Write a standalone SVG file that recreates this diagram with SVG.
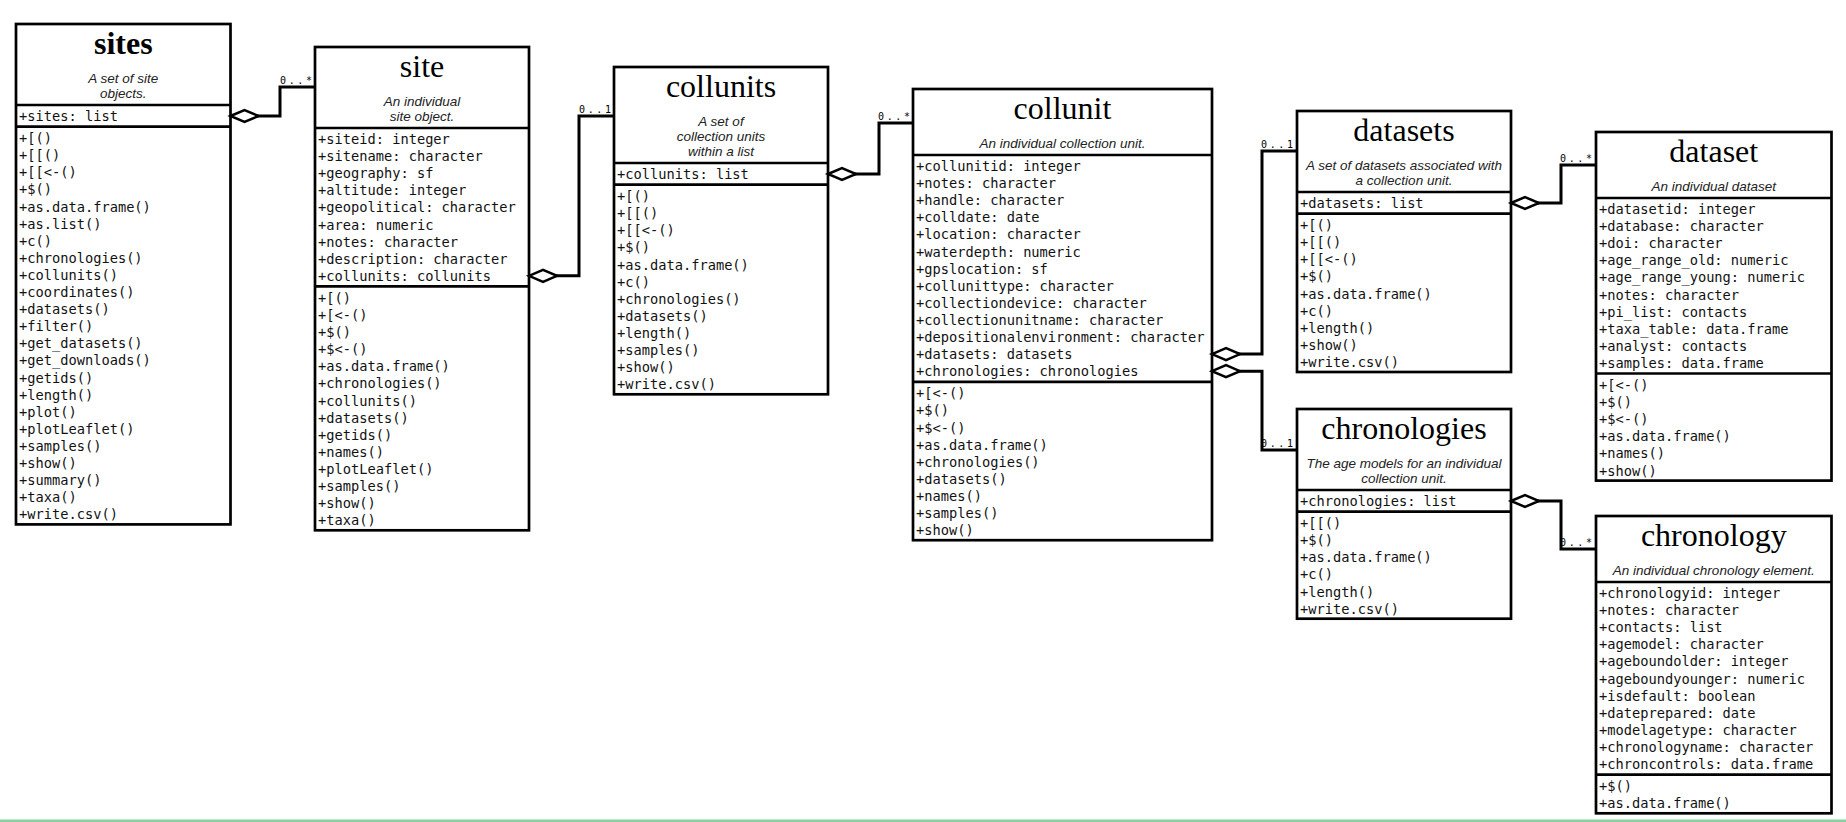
<svg xmlns="http://www.w3.org/2000/svg" width="1846" height="822" viewBox="0 0 1846 822">
  <style>
    .box { fill: #fff; stroke: #000; stroke-width: 2.7; }
    .sep { stroke: #000; stroke-width: 2.7; }
    .title { font-family: "Liberation Serif", "DejaVu Serif", serif; font-size: 32px; text-anchor: middle; fill: #000; }
    .bold { font-weight: bold; }
    .sub { font-family: "Liberation Sans", "DejaVu Sans", sans-serif; font-style: italic; font-size: 13.5px; text-anchor: middle; fill: #222; }
    .m { font-family: "DejaVu Sans Mono", "Liberation Mono", monospace; font-size: 13.7px; fill: #111; }
    .lbl { font-family: "DejaVu Sans Mono", "Liberation Mono", monospace; font-size: 10px; fill: #000; }
    .wire { fill: none; stroke: #000; stroke-width: 3; marker-start: url(#agg); }
  </style>
  <defs>
    <!-- hollow aggregation diamond at the owning end -->
    <marker id="agg" markerUnits="userSpaceOnUse" viewBox="0 0 32 16" markerWidth="32" markerHeight="16" refX="1" refY="8" orient="auto" overflow="visible">
      <path d="M1,8 L15,2 L29,8 L15,14 Z" fill="#fff" stroke="#000" stroke-width="2.5"/>
    </marker>
  </defs>
  <rect width="1846" height="822" fill="#fff"/>

  <!-- sites -->
  <g id="sites">
    <rect class="box" x="16" y="24" width="214.5" height="500.4"/>
    <line class="sep" x1="16" y1="105" x2="230.5" y2="105"/>
    <line class="sep" x1="16" y1="126.6" x2="230.5" y2="126.6"/>
    <text class="title bold" x="123.3" y="54">sites</text>
    <text class="sub" x="123.3" y="83">A set of site</text>
    <text class="sub" x="123.3" y="98">objects.</text>
    <text class="m" x="19" y="121">+sites: list</text>
    <text class="m" x="19" y="143.1">+[()<tspan x="19" dy="17.1">+[[()</tspan><tspan x="19" dy="17.1">+[[&lt;-()</tspan><tspan x="19" dy="17.1">+$()</tspan><tspan x="19" dy="17.1">+as.data.frame()</tspan><tspan x="19" dy="17.1">+as.list()</tspan><tspan x="19" dy="17.1">+c()</tspan><tspan x="19" dy="17.1">+chronologies()</tspan><tspan x="19" dy="17.1">+collunits()</tspan><tspan x="19" dy="17.1">+coordinates()</tspan><tspan x="19" dy="17.1">+datasets()</tspan><tspan x="19" dy="17.1">+filter()</tspan><tspan x="19" dy="17.1">+get_datasets()</tspan><tspan x="19" dy="17.1">+get_downloads()</tspan><tspan x="19" dy="17.1">+getids()</tspan><tspan x="19" dy="17.1">+length()</tspan><tspan x="19" dy="17.1">+plot()</tspan><tspan x="19" dy="17.1">+plotLeaflet()</tspan><tspan x="19" dy="17.1">+samples()</tspan><tspan x="19" dy="17.1">+show()</tspan><tspan x="19" dy="17.1">+summary()</tspan><tspan x="19" dy="17.1">+taxa()</tspan><tspan x="19" dy="17.1">+write.csv()</tspan></text>
  </g>

  <!-- site -->
  <g id="site">
    <rect class="box" x="315" y="47" width="214" height="483.3"/>
    <line class="sep" x1="315" y1="128" x2="529" y2="128"/>
    <line class="sep" x1="315" y1="286.4" x2="529" y2="286.4"/>
    <text class="title" x="422" y="77">site</text>
    <text class="sub" x="422" y="106">An individual</text>
    <text class="sub" x="422" y="121">site object.</text>
    <text class="m" x="318" y="144">+siteid: integer<tspan x="318" dy="17.1">+sitename: character</tspan><tspan x="318" dy="17.1">+geography: sf</tspan><tspan x="318" dy="17.1">+altitude: integer</tspan><tspan x="318" dy="17.1">+geopolitical: character</tspan><tspan x="318" dy="17.1">+area: numeric</tspan><tspan x="318" dy="17.1">+notes: character</tspan><tspan x="318" dy="17.1">+description: character</tspan><tspan x="318" dy="17.1">+collunits: collunits</tspan></text>
    <text class="m" x="318" y="302.9">+[()<tspan x="318" dy="17.1">+[&lt;-()</tspan><tspan x="318" dy="17.1">+$()</tspan><tspan x="318" dy="17.1">+$&lt;-()</tspan><tspan x="318" dy="17.1">+as.data.frame()</tspan><tspan x="318" dy="17.1">+chronologies()</tspan><tspan x="318" dy="17.1">+collunits()</tspan><tspan x="318" dy="17.1">+datasets()</tspan><tspan x="318" dy="17.1">+getids()</tspan><tspan x="318" dy="17.1">+names()</tspan><tspan x="318" dy="17.1">+plotLeaflet()</tspan><tspan x="318" dy="17.1">+samples()</tspan><tspan x="318" dy="17.1">+show()</tspan><tspan x="318" dy="17.1">+taxa()</tspan></text>
  </g>

  <!-- collunits -->
  <g id="collunits">
    <rect class="box" x="614" y="67" width="214" height="327.3"/>
    <line class="sep" x1="614" y1="163" x2="828" y2="163"/>
    <line class="sep" x1="614" y1="184.6" x2="828" y2="184.6"/>
    <text class="title" x="721" y="97">collunits</text>
    <text class="sub" x="721" y="126">A set of</text>
    <text class="sub" x="721" y="141">collection units</text>
    <text class="sub" x="721" y="156">within a list</text>
    <text class="m" x="617" y="179">+collunits: list</text>
    <text class="m" x="617" y="201.1">+[()<tspan x="617" dy="17.1">+[[()</tspan><tspan x="617" dy="17.1">+[[&lt;-()</tspan><tspan x="617" dy="17.1">+$()</tspan><tspan x="617" dy="17.1">+as.data.frame()</tspan><tspan x="617" dy="17.1">+c()</tspan><tspan x="617" dy="17.1">+chronologies()</tspan><tspan x="617" dy="17.1">+datasets()</tspan><tspan x="617" dy="17.1">+length()</tspan><tspan x="617" dy="17.1">+samples()</tspan><tspan x="617" dy="17.1">+show()</tspan><tspan x="617" dy="17.1">+write.csv()</tspan></text>
  </g>

  <!-- collunit -->
  <g id="collunit">
    <rect class="box" x="913" y="89" width="299" height="451.2"/>
    <line class="sep" x1="913" y1="155" x2="1212" y2="155"/>
    <line class="sep" x1="913" y1="381.8" x2="1212" y2="381.8"/>
    <text class="title" x="1062.5" y="119">collunit</text>
    <text class="sub" x="1062.5" y="148">An individual collection unit.</text>
    <text class="m" x="916" y="171">+collunitid: integer<tspan x="916" dy="17.1">+notes: character</tspan><tspan x="916" dy="17.1">+handle: character</tspan><tspan x="916" dy="17.1">+colldate: date</tspan><tspan x="916" dy="17.1">+location: character</tspan><tspan x="916" dy="17.1">+waterdepth: numeric</tspan><tspan x="916" dy="17.1">+gpslocation: sf</tspan><tspan x="916" dy="17.1">+collunittype: character</tspan><tspan x="916" dy="17.1">+collectiondevice: character</tspan><tspan x="916" dy="17.1">+collectionunitname: character</tspan><tspan x="916" dy="17.1">+depositionalenvironment: character</tspan><tspan x="916" dy="17.1">+datasets: datasets</tspan><tspan x="916" dy="17.1">+chronologies: chronologies</tspan></text>
    <text class="m" x="916" y="398.3">+[&lt;-()<tspan x="916" dy="17.1">+$()</tspan><tspan x="916" dy="17.1">+$&lt;-()</tspan><tspan x="916" dy="17.1">+as.data.frame()</tspan><tspan x="916" dy="17.1">+chronologies()</tspan><tspan x="916" dy="17.1">+datasets()</tspan><tspan x="916" dy="17.1">+names()</tspan><tspan x="916" dy="17.1">+samples()</tspan><tspan x="916" dy="17.1">+show()</tspan></text>
  </g>

  <!-- datasets -->
  <g id="datasets">
    <rect class="box" x="1297" y="111" width="214" height="261"/>
    <line class="sep" x1="1297" y1="192" x2="1511" y2="192"/>
    <line class="sep" x1="1297" y1="213.6" x2="1511" y2="213.6"/>
    <text class="title" x="1404" y="141">datasets</text>
    <text class="sub" x="1404" y="170">A set of datasets associated with</text>
    <text class="sub" x="1404" y="185">a collection unit.</text>
    <text class="m" x="1300" y="208">+datasets: list</text>
    <text class="m" x="1300" y="230.1">+[()<tspan x="1300" dy="17.1">+[[()</tspan><tspan x="1300" dy="17.1">+[[&lt;-()</tspan><tspan x="1300" dy="17.1">+$()</tspan><tspan x="1300" dy="17.1">+as.data.frame()</tspan><tspan x="1300" dy="17.1">+c()</tspan><tspan x="1300" dy="17.1">+length()</tspan><tspan x="1300" dy="17.1">+show()</tspan><tspan x="1300" dy="17.1">+write.csv()</tspan></text>
  </g>

  <!-- dataset -->
  <g id="dataset">
    <rect class="box" x="1596" y="132" width="235.5" height="348.6"/>
    <line class="sep" x1="1596" y1="198" x2="1831.5" y2="198"/>
    <line class="sep" x1="1596" y1="373.5" x2="1831.5" y2="373.5"/>
    <text class="title" x="1713.75" y="162">dataset</text>
    <text class="sub" x="1713.75" y="191">An individual dataset</text>
    <text class="m" x="1599" y="214">+datasetid: integer<tspan x="1599" dy="17.1">+database: character</tspan><tspan x="1599" dy="17.1">+doi: character</tspan><tspan x="1599" dy="17.1">+age_range_old: numeric</tspan><tspan x="1599" dy="17.1">+age_range_young: numeric</tspan><tspan x="1599" dy="17.1">+notes: character</tspan><tspan x="1599" dy="17.1">+pi_list: contacts</tspan><tspan x="1599" dy="17.1">+taxa_table: data.frame</tspan><tspan x="1599" dy="17.1">+analyst: contacts</tspan><tspan x="1599" dy="17.1">+samples: data.frame</tspan></text>
    <text class="m" x="1599" y="390">+[&lt;-()<tspan x="1599" dy="17.1">+$()</tspan><tspan x="1599" dy="17.1">+$&lt;-()</tspan><tspan x="1599" dy="17.1">+as.data.frame()</tspan><tspan x="1599" dy="17.1">+names()</tspan><tspan x="1599" dy="17.1">+show()</tspan></text>
  </g>

  <!-- chronologies -->
  <g id="chronologies">
    <rect class="box" x="1297" y="409" width="214" height="209.7"/>
    <line class="sep" x1="1297" y1="490" x2="1511" y2="490"/>
    <line class="sep" x1="1297" y1="511.6" x2="1511" y2="511.6"/>
    <text class="title" x="1404" y="439">chronologies</text>
    <text class="sub" x="1404" y="468">The age models for an individual</text>
    <text class="sub" x="1404" y="483">collection unit.</text>
    <text class="m" x="1300" y="506">+chronologies: list</text>
    <text class="m" x="1300" y="528.1">+[[()<tspan x="1300" dy="17.1">+$()</tspan><tspan x="1300" dy="17.1">+as.data.frame()</tspan><tspan x="1300" dy="17.1">+c()</tspan><tspan x="1300" dy="17.1">+length()</tspan><tspan x="1300" dy="17.1">+write.csv()</tspan></text>
  </g>

  <!-- chronology -->
  <g id="chronology">
    <rect class="box" x="1596" y="516" width="235.5" height="297.3"/>
    <line class="sep" x1="1596" y1="582" x2="1831.5" y2="582"/>
    <line class="sep" x1="1596" y1="774.6" x2="1831.5" y2="774.6"/>
    <text class="title" x="1713.75" y="546">chronology</text>
    <text class="sub" x="1713.75" y="575">An individual chronology element.</text>
    <text class="m" x="1599" y="598">+chronologyid: integer<tspan x="1599" dy="17.1">+notes: character</tspan><tspan x="1599" dy="17.1">+contacts: list</tspan><tspan x="1599" dy="17.1">+agemodel: character</tspan><tspan x="1599" dy="17.1">+ageboundolder: integer</tspan><tspan x="1599" dy="17.1">+ageboundyounger: numeric</tspan><tspan x="1599" dy="17.1">+isdefault: boolean</tspan><tspan x="1599" dy="17.1">+dateprepared: date</tspan><tspan x="1599" dy="17.1">+modelagetype: character</tspan><tspan x="1599" dy="17.1">+chronologyname: character</tspan><tspan x="1599" dy="17.1">+chroncontrols: data.frame</tspan></text>
    <text class="m" x="1599" y="791.1">+$()<tspan x="1599" dy="17.1">+as.data.frame()</tspan></text>
  </g>

  <!-- aggregation links: diamond on the container, multiplicity at the part -->
  <g id="connectors">
    <path class="wire" d="M230.5,116 H280 V87 H315"/>
    <path class="wire" d="M529,275.8 H579 V116 H614"/>
    <path class="wire" d="M828,174 H879 V123 H913"/>
    <path class="wire" d="M1212,354.1 H1262 V151 H1297"/>
    <path class="wire" d="M1212,371.2 H1262 V450 H1297"/>
    <path class="wire" d="M1511,203 H1561 V165 H1596"/>
    <path class="wire" d="M1511,501 H1561 V549 H1596"/>
    <text class="lbl" x="280" y="84" textLength="32" lengthAdjust="spacing">0..*</text>
    <text class="lbl" x="579" y="112.5" textLength="32" lengthAdjust="spacing">0..1</text>
    <text class="lbl" x="878" y="119.5" textLength="32" lengthAdjust="spacing">0..*</text>
    <text class="lbl" x="1261" y="147.5" textLength="32" lengthAdjust="spacing">0..1</text>
    <text class="lbl" x="1261" y="446.5" textLength="32" lengthAdjust="spacing">0..1</text>
    <text class="lbl" x="1560" y="161.5" textLength="32" lengthAdjust="spacing">0..*</text>
    <text class="lbl" x="1560" y="545.5" textLength="32" lengthAdjust="spacing">0..*</text>
  </g>

  <!-- bottom rule -->
  <rect x="0" y="819.5" width="1846" height="2.5" fill="#88d1a1"/>
</svg>
